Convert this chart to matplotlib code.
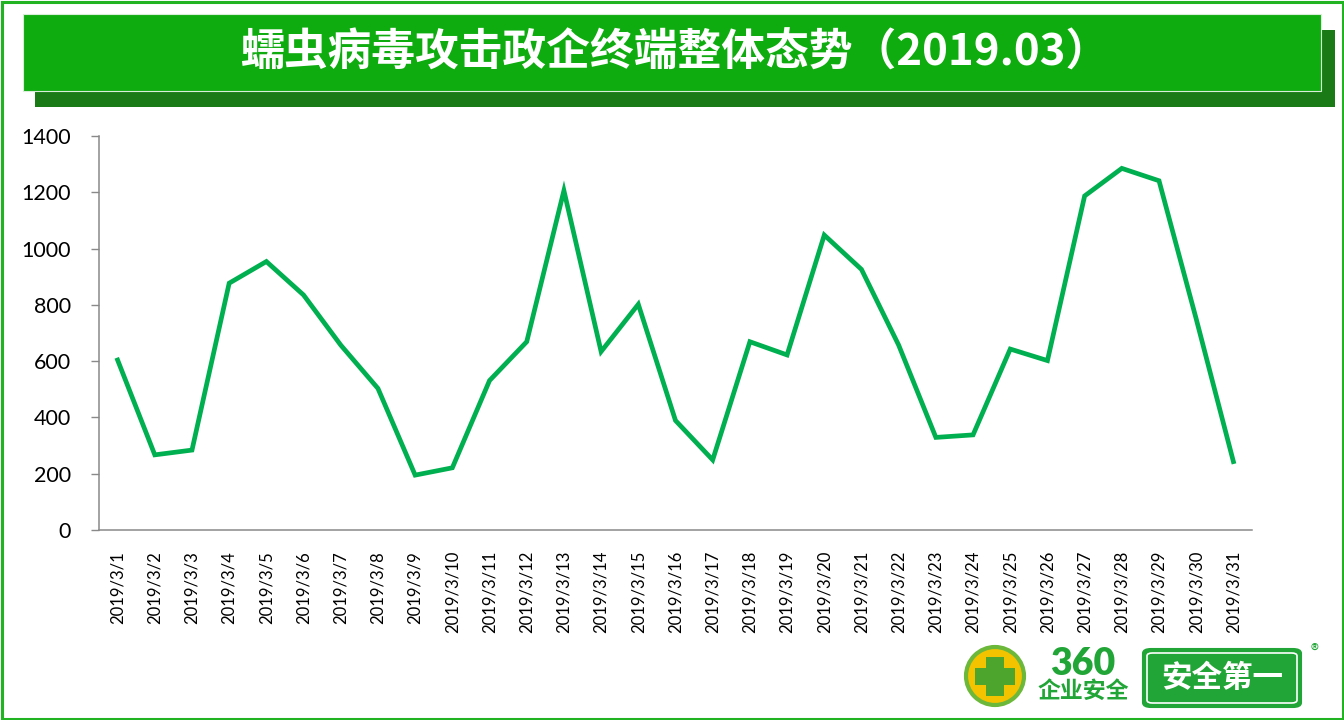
import matplotlib
matplotlib.use("Agg")
import matplotlib.pyplot as plt
from matplotlib.patches import Rectangle, FancyBboxPatch, Ellipse

plt.rcParams['font.family'] = ['Noto Sans CJK SC', 'DejaVu Sans']

title = "蠕虫病毒攻击政企终端整体态势（2019.03）"
dates = [f"2019/3/{d}" for d in range(1, 32)]
values = [604, 267, 284, 877, 954, 835, 657, 503, 195, 221,
          531, 669, 1206, 634, 802, 389, 249, 669, 622, 1048,
          926, 657, 329, 338, 643, 602, 1187, 1285, 1241, 750, 243]
yticks = [0, 200, 400, 600, 800, 1000, 1200, 1400]

W, H = 1344, 720
fig = plt.figure(figsize=(W / 100, H / 100), dpi=100)
fig.patch.set_facecolor('white')


def fx(x):
    return x / W


def fy(y):
    return 1 - y / H


def rect_px(x0, y0, x1, y1, **kw):
    r = Rectangle((fx(x0), fy(y1)), fx(x1) - fx(x0), fy(y0) - fy(y1),
                  transform=fig.transFigure, **kw)
    fig.add_artist(r)
    return r


# outer frame
rect_px(1.5, 1.5, W - 1.5, H - 1.5, facecolor='none', edgecolor='#22B322', linewidth=2.2)

# title banner: shadow + main
rect_px(35, 30, 1335, 107, facecolor='#1A7A16', edgecolor='none')
rect_px(23, 14, 1321, 91, facecolor='#0FAC0F', edgecolor='#D8EED8', linewidth=0.8)
fig.text(fx(675), fy(53), title, color='white', fontsize=31.5, fontweight='bold',
         ha='center', va='center')

# main chart axes
left, right, top, bottom = 99, 1252, 136, 530
ax = fig.add_axes([fx(left), fy(bottom), fx(right) - fx(left), fy(top) - fy(bottom)])
x = list(range(len(values)))
ax.plot(x, values, color='#00B050', linewidth=3.4, solid_joinstyle='miter')
ax.set_xlim(-0.5, len(values) - 0.5)
ax.set_ylim(0, 1400)
ax.set_yticks(yticks)
ax.set_yticklabels([str(v) for v in yticks], fontsize=15.5, family=['Lato', 'DejaVu Sans'])
ax.set_xticks(x)
ax.set_xticklabels(dates, rotation=90, fontsize=12, family=['Lato', 'DejaVu Sans'])
ax.tick_params(axis='x', length=0, pad=15)
ax.tick_params(axis='y', length=6, width=1, color='#898989', pad=14)
for s in ['top', 'right']:
    ax.spines[s].set_visible(False)
for s in ['left', 'bottom']:
    ax.spines[s].set_color('#898989')
    ax.spines[s].set_linewidth(1.1)

# ---- 360 logo (bottom right) ----
fig.add_artist(Ellipse((fx(995), fy(676)), fx(58), 58 / H, transform=fig.transFigure,
                       facecolor='#F3C300', edgecolor='#6CB83A', linewidth=3))
rect_px(986, 657, 1004, 696, facecolor='#4EA52E', edgecolor='none')
rect_px(975, 668, 1015, 685, facecolor='#4EA52E', edgecolor='none')
fig.text(fx(1083), fy(664), "360", color='#22A537', fontsize=27, fontweight='heavy',
         ha='center', va='center', family=['Lato', 'DejaVu Sans'])
fig.text(fx(1083), fy(691), "企业安全", color='#22A537', fontsize=16.5, fontweight='bold',
         ha='center', va='center')
# box
fig.add_artist(FancyBboxPatch((fx(1143), fy(707)), fx(158), fy(0) - fy(58),
                              boxstyle='round,pad=0,rounding_size=0.006',
                              transform=fig.transFigure, facecolor='#22A537',
                              edgecolor='#22A537', linewidth=1.5))
fig.add_artist(FancyBboxPatch((fx(1147), fy(703)), fx(150), fy(0) - fy(50),
                              boxstyle='round,pad=0,rounding_size=0.004',
                              transform=fig.transFigure, facecolor='#22A537',
                              edgecolor='white', linewidth=1.2))
fig.text(fx(1222), fy(678), "安全第一", color='white', fontsize=22, fontweight='bold',
         ha='center', va='center')
fig.text(fx(1315), fy(651), "®", color='#22A537', fontsize=12, ha='center', va='center')

fig.savefig('out.png', dpi=100)
